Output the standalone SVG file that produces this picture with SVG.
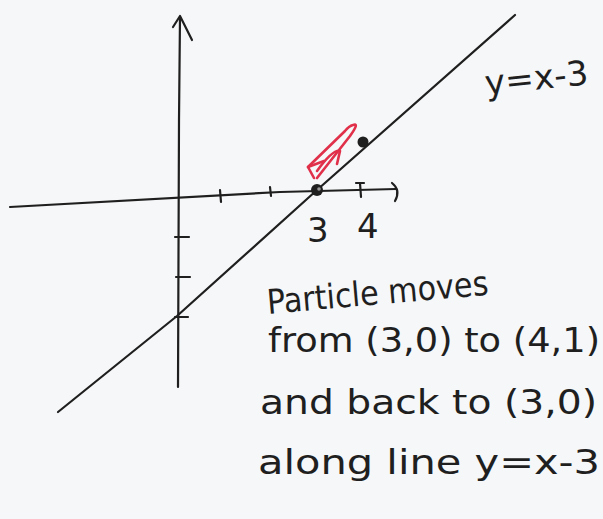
<svg xmlns="http://www.w3.org/2000/svg" width="603" height="519" viewBox="0 0 603 519">
<style>
.ink{fill:none;stroke:#1f1f1f;stroke-width:2.2;stroke-linecap:round;stroke-linejoin:round}
.red{fill:none;stroke:#e0304a;stroke-width:2.6;stroke-linecap:round;stroke-linejoin:round}
.hw{font-family:"DejaVu Sans","Liberation Sans",sans-serif;fill:#1f1f1f;font-size:34px}
</style>
<rect width="603" height="519" fill="#f6f7f8"/>
<g id="axes">
  <path class="ink" d="M180,17 L179,120 L178,387"/>
  <path class="ink" d="M173,27 L180,16 L192,40"/>
  <path class="ink" d="M10,207 Q150,199 280,192 L396,189"/>
  <path class="ink" d="M392,183 Q401,190 395,201"/>
  <path class="ink" d="M220,190 L221,202 M270,187 L271,196 M356,183 L364,183 M360,183 L361,197"/>
  <path class="ink" d="M175,237 L189,237 M176,277 L190,277 M175,317 L188,317"/>
</g>
<g id="line">
  <path class="ink" d="M58,412 L177,316 L317,190 L515,15"/>
</g>
<g id="points">
  <circle cx="317" cy="190" r="6" fill="#1f1f1f"/>
  <circle cx="319" cy="189" r="1.8" fill="#9a9a9a"/>
  <circle cx="363" cy="142" r="5.5" fill="#1f1f1f"/>
</g>
<g id="motion">
  <path class="red" d="M317,178 L350,136 Q360,122 353,125 Q349,126 345,131 L308,167"/>
  <path class="red" d="M324,161 L308,167 L314,178"/>
  <path class="red" d="M317,171 Q333,149 340,151 L337,164"/>
</g>
<g id="labels">
  <text class="hw" x="307" y="242" font-size="20">3</text>
  <text class="hw" x="357" y="238" font-size="19">4</text>
  <text class="hw" x="486" y="95" font-size="27" textLength="104" lengthAdjust="spacingAndGlyphs" transform="rotate(-6 486 95)">y=x-3</text>
</g>
<g id="caption">
  <text class="hw" x="268" y="314" textLength="222" lengthAdjust="spacingAndGlyphs" transform="rotate(-5 268 314)">Particle moves</text>
  <text class="hw" x="268" y="352" textLength="332" lengthAdjust="spacingAndGlyphs">from (3,0) to (4,1)</text>
  <text class="hw" x="260" y="414" textLength="337" lengthAdjust="spacingAndGlyphs">and back to (3,0)</text>
  <text class="hw" x="258" y="474" textLength="342" lengthAdjust="spacingAndGlyphs">along line y=x-3</text>
</g>
</svg>
